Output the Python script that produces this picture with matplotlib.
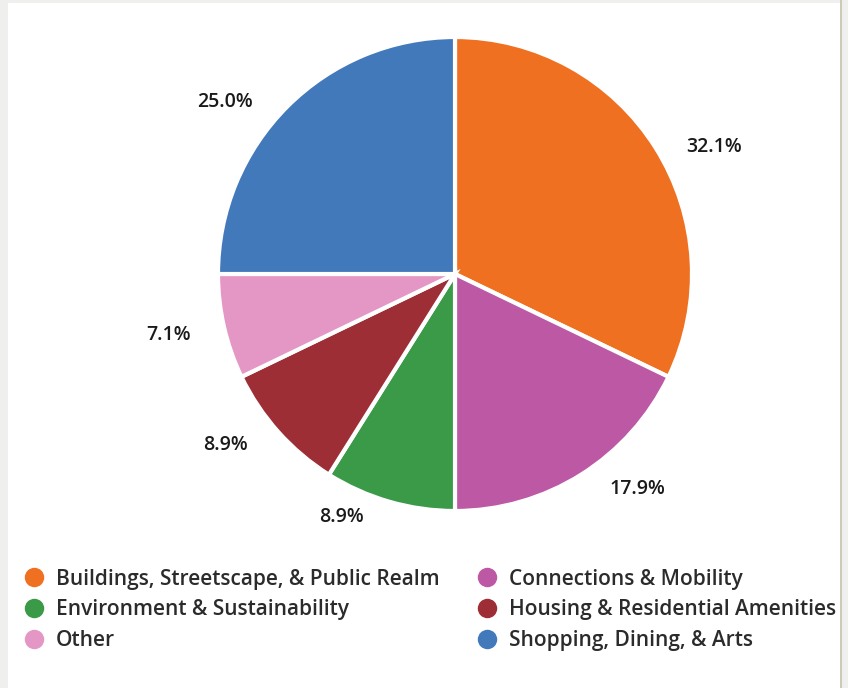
import matplotlib
matplotlib.use("Agg")
import numpy as np
import matplotlib.pyplot as plt
from matplotlib.lines import Line2D
from matplotlib.patches import Rectangle

categories = ["Buildings, Streetscape, & Public Realm", "Connections & Mobility",
              "Environment & Sustainability", "Housing & Residential Amenities",
              "Other", "Shopping, Dining, & Arts"]
values = [18, 10, 5, 5, 4, 14]
colors = ["#f07022", "#bd58a5", "#3b9a47", "#9d2e35", "#e497c5", "#4279bb"]

# label placement style (angle nudge in degrees, distance in radii)
label_nudge = [-6.0, 8.1, -9.0, -5.1, -0.9, 8.3]
label_dist = [1.217, 1.19, 1.133, 1.206, 1.236, 1.212]

W, H = 848, 688
fig = plt.figure(figsize=(W / 100, H / 100), dpi=100, facecolor="#efefed")

# white panel
fig.patches.append(Rectangle((8 / W, 0), (840 - 8) / W, (H - 3) / H,
                             transform=fig.transFigure, facecolor="white",
                             edgecolor="none", zorder=-2))
fig.patches.append(Rectangle((840 / W, 0), 1.5 / W, 1,
                             transform=fig.transFigure, facecolor="#cfc9b8",
                             edgecolor="none", zorder=-2))

cx, cy, r = 455, 274, 237
ax = fig.add_axes([(cx - r) / W, (H - cy - r) / H, 2 * r / W, 2 * r / H])
ax.set_zorder(1)
wedges, texts, autotexts = ax.pie(
    values, colors=colors, startangle=90, counterclock=False,
    autopct=lambda p: f"{p:.1f}%", pctdistance=1.22,
    wedgeprops=dict(edgecolor="white", linewidth=3),
    textprops=dict(fontsize=14, color="#1a1a1a", family="Open Sans",
                   weight="semibold"))
for w, t, dn, dist in zip(wedges, autotexts, label_nudge, label_dist):
    mid = np.deg2rad((w.theta1 + w.theta2) / 2 + dn)
    t.set_position((dist * np.cos(mid), dist * np.sin(mid)))
    t.set_ha("center")
    t.set_va("center")
ax.set_xlim(-1, 1)
ax.set_ylim(-1, 1)
ax.set_aspect("equal")
ax.axis("off")

order = [0, 2, 4, 1, 3, 5]
handles = [Line2D([], [], marker="o", linestyle="none", markersize=14,
                  markerfacecolor=colors[i], markeredgecolor="none") for i in order]
labels = [categories[i] for i in order]
leg = fig.legend(handles, labels, ncol=2, loc="upper left",
                 bbox_to_anchor=(4 / W, 1 - 550 / H), frameon=False,
                 prop=dict(family="Open Sans", size=15, weight="semibold"),
                 handletextpad=0.5, columnspacing=1.72, labelspacing=0.46,
                 handlelength=1.1, labelcolor="#2b2b2b")
leg.set_zorder(2)

fig.savefig("out.png", dpi=100, facecolor=fig.get_facecolor())
